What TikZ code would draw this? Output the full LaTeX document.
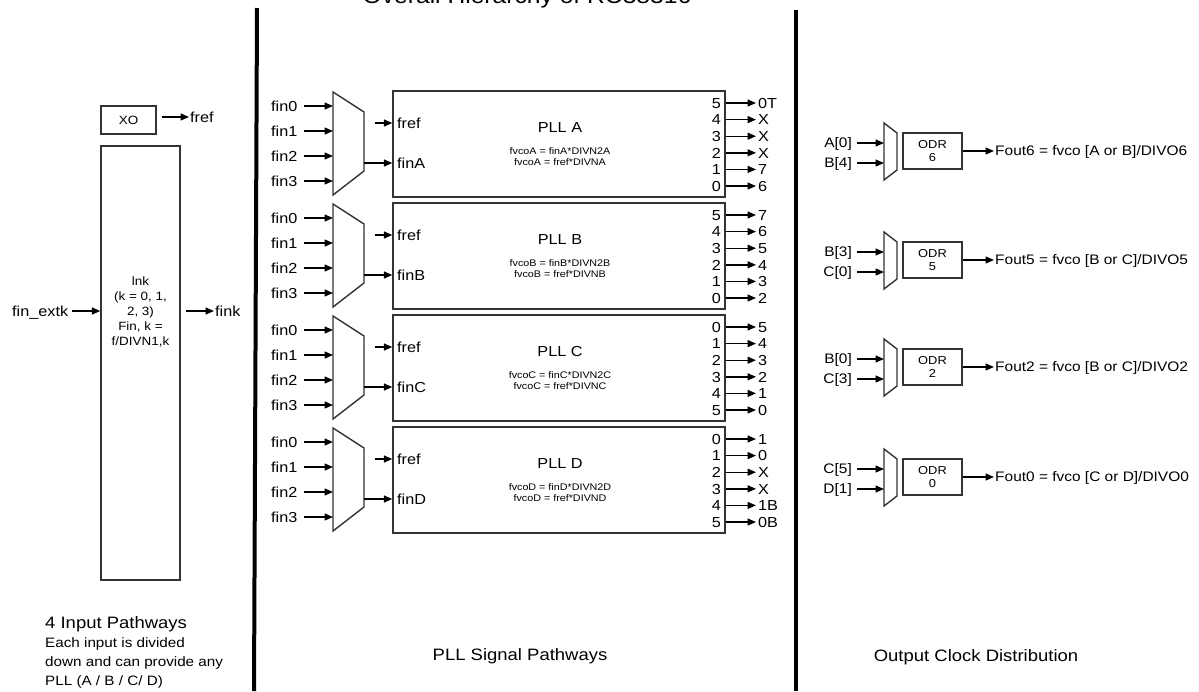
\documentclass[tikz,border=0pt]{standalone}
\usepackage{fontspec}
\setmainfont[FakeStretch=1.12]{Liberation Sans}
\usetikzlibrary{arrows.meta}
\begin{document}
\begin{tikzpicture}[x=1pt,y=-1pt,
  box/.style={draw=black!80, line width=1.4pt, inner sep=0pt},
  muxline/.style={draw=black!80, line width=1.4pt, line join=miter},
  sig/.style={draw=black, line width=1.4pt, -{Triangle[length=8.5pt,width=7pt]}},
  sep/.style={draw=black, line width=4pt},
  lbl/.style={inner sep=0pt, font=\fontsize{14.5}{17}\selectfont, text height=10.4pt, text depth=0pt},
  numlbl/.style={inner sep=0pt, font=\fontsize{14.5}{17}\selectfont, text height=10.4pt, text depth=0pt},
  outlbl/.style={inner sep=0pt, font=\fontsize{13.8}{16}\selectfont, text height=9.9pt, text depth=0pt},
  plltitle/.style={inner sep=0pt, font=\fontsize{14.5}{17}\selectfont, text height=10.4pt, text depth=0pt},
  formula/.style={inner sep=0pt, font=\fontsize{9.6}{11}\selectfont, text height=6.9pt, text depth=0pt},
  odrtext/.style={inner sep=0pt, align=center, font=\fontsize{11.5}{12.5}\selectfont},
  xotext/.style={font=\fontsize{12}{14}\selectfont},
  inktext/.style={inner sep=0pt, align=center, font=\fontsize{12}{15}\selectfont},
  sectext/.style={inner sep=0pt, font=\fontsize{16.5}{19}\selectfont},
  notetext/.style={inner sep=0pt, font=\fontsize{13.6}{18.6}\selectfont},
  titletext/.style={inner sep=0pt, font=\fontsize{22}{26}\selectfont}
]
\useasboundingbox (0,0) rectangle (1199,691);

% title (cut off at the top edge, as in the reference)
\node[titletext, anchor=base] (title) at (527,3) {Overall Hierarchy of RC38316};

% separators
\draw[sep] (257,8) -- (254,691);
\draw[sep] (796,10) -- (796,691);

% ---------- input pathways ----------
\node[box, minimum width=55pt, minimum height=28pt, xotext] (xo) at (128.5,120) {XO};
\node[lbl, anchor=west] (fref0) at (190,117) {fref};
\draw[sig] ([xshift=5pt]xo.east |- fref0.west) -- ([xshift=-1pt]fref0.west);

\node[box, minimum width=79pt, minimum height=434pt] (ink) at (140.5,363) {};
\node[inktext] (inklbl) at (140.5,312) {lnk\\(k = 0, 1,\\2, 3)\\Fin, k =\\f/DIVN1,k};

\node[lbl, anchor=west] (finext) at (12,311) {fin\_extk};
\draw[sig] ([xshift=4pt]finext.east) -- (finext.east -| ink.west);
\node[lbl, anchor=west] (fink) at (215,311) {fink};
\draw[sig] ([xshift=5pt]fink.west -| ink.east) -- ([xshift=-1pt]fink.west);

\node[notetext, anchor=base west, font=\fontsize{16.5}{19}\selectfont] (note0) at (45,628) {4 Input Pathways};
\node[notetext, anchor=base west] (note1) at (45,647) {Each input is divided};
\node[notetext, anchor=base west] (note2) at (45,666) {down and can provide any};
\node[notetext, anchor=base west] (note3) at (45,685) {PLL (A / B / C/ D)};

% ---------- PLL signal pathways ----------
\newcommand\pllgroup[3]{%
\begin{scope}[yshift=-#2pt]
  \node[box, minimum width=332pt, minimum height=106pt] (pll#1) at (559,144) {};
  \node[plltitle] (pll#1name) at (560,127) {PLL #1};
  \node[formula] (pll#1eqa) at (560,151) {fvco#1 = fin#1*DIVN2#1};
  \node[formula] (pll#1eqb) at (560,162.5) {fvco#1 = fref*DIVN#1};
  \draw[muxline] (333,92) coordinate (mux#1tl) -- (364,112) coordinate (mux#1tr)
     -- (364,171) -- (333,195) -- cycle;
  \foreach \k/\yy in {0/106,1/131,2/156,3/181}{
    \node[lbl, anchor=west] (fin#1\k) at (271,\yy) {fin\k};
    \draw[sig] ([xshift=6pt]fin#1\k.east) -- (fin#1\k.east -| mux#1tl);
  }
  \node[lbl, anchor=west] (fref#1) at (397,123) {fref};
  \coordinate (fref#1src) at (375,123);
  \draw[sig] (fref#1src) -- (fref#1src -| pll#1.west);
  \node[lbl, anchor=west] (fin#1in) at (397,163) {fin#1};
  \draw[sig] (fin#1in.west -| mux#1tr) -- (fin#1in.west -| pll#1.west);
  \foreach \j/\num/\out in {#3}{
    \pgfmathsetmacro\yy{103+16.6*\j}
    \node[numlbl, anchor=east] (o#1n\j) at (721,\yy) {\num};
    \node[numlbl, anchor=west] (o#1o\j) at (758,\yy) {\out};
    \draw[sig] (o#1n\j.east -| pll#1.east) -- ([xshift=-2pt]o#1o\j.west);
  }
\end{scope}}

\pllgroup{A}{0}{0/5/0T,1/4/X,2/3/X,3/2/X,4/1/7,5/0/6}
\pllgroup{B}{112}{0/5/7,1/4/6,2/3/5,3/2/4,4/1/3,5/0/2}
\pllgroup{C}{224}{0/0/5,1/1/4,2/2/3,3/3/2,4/4/1,5/5/0}
\pllgroup{D}{336}{0/0/1,1/1/0,2/2/X,3/3/X,4/4/1B,5/5/0B}

\node[sectext, anchor=base] (secpll) at (520,660) {PLL Signal Pathways};

% ---------- output clock distribution ----------
\newcommand\outgroup[6]{%
  \draw[muxline] (884,#2-28) coordinate (om#1tl) -- (897,#2-18) coordinate (om#1tr)
     -- (897,#2+19) -- (884,#2+29) -- cycle;
  \node[outlbl, anchor=east] (oi#1a) at (852,#2-8) {#3};
  \node[outlbl, anchor=east] (oi#1b) at (852,#2+12) {#4};
  \draw[sig] ([xshift=5pt]oi#1a.east) -- (oi#1a.east -| om#1tl);
  \draw[sig] ([xshift=5pt]oi#1b.east) -- (oi#1b.east -| om#1tl);
  \node[box, minimum width=59pt, minimum height=36pt] (odr#1) at (932.5,#2) {};
  \node[odrtext] (odr#1lbl) at (932.5,#2) {ODR\\#5};
  \node[outlbl, anchor=west] (fout#1) at (995,#2) {#6};
  \draw[sig] (odr#1.east) -- ([xshift=-1pt]fout#1.west);
}

\outgroup{6}{151}{A[0]}{B[4]}{6}{Fout6 = fvco [A or B]/DIVO6}
\outgroup{5}{260}{B[3]}{C[0]}{5}{Fout5 = fvco [B or C]/DIVO5}
\outgroup{2}{367}{B[0]}{C[3]}{2}{Fout2 = fvco [B or C]/DIVO2}
\outgroup{0}{477}{C[5]}{D[1]}{0}{Fout0 = fvco [C or D]/DIVO0}

\node[sectext, anchor=base] (secout) at (976,661) {Output Clock Distribution};
\end{tikzpicture}
\end{document}
